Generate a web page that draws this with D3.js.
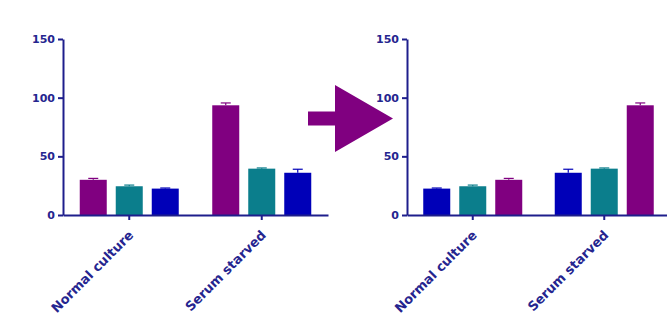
<!DOCTYPE html>
<html><head><meta charset="utf-8">
<script src="https://cdn.jsdelivr.net/npm/d3@7"></script>
<style>
html,body{margin:0;padding:0;background:#fff;}
svg{display:block;}
</style></head>
<body>
<svg id="chart" width="667" height="324"></svg>
<script>
const categories = ["Normal culture", "Serum starved"];
const seriesNames = ["Purple", "Teal", "Blue"];
const purpleValues = [30, 93.5];
const purpleErrors = [1.2, 2];
const tealValues = [24.5, 39.5];
const tealErrors = [1, 0.6];
const blueValues = [22.5, 36];
const blueErrors = [0.5, 3];
const yTicks = [0, 50, 100, 150];
const leftOrder = ["Purple", "Teal", "Blue"];
const rightOrder = ["Blue", "Teal", "Purple"];

const colors = {Purple: "#800080", Teal: "#0b7e8c", Blue: "#0000b8"};
const axisColor = "#1e1e8c";
const textColor = "#25258f";

const seriesData = {
  Purple: {values: purpleValues, errors: purpleErrors},
  Teal: {values: tealValues, errors: tealErrors},
  Blue: {values: blueValues, errors: blueErrors}
};

const svg = d3.select("#chart");

function drawPanel(x0, x1, order) {
  const y = d3.scaleLinear().domain([0, 150]).range([215, 39]);
  const xb = d3.scaleBand().domain(categories).range([x0, x1]).padding(0);
  const inner = 99;
  const xs = d3.scaleBand().domain(order).range([0, inner]).paddingInner(0.25);
  const off = (xb.bandwidth() - inner) / 2;
  const g = svg.append("g");

  categories.forEach((c, ci) => {
    order.forEach(s => {
      const v = seriesData[s].values[ci];
      const e = seriesData[s].errors[ci];
      const bx = xb(c) + off + xs(s);
      g.append("rect")
        .attr("x", bx).attr("width", xs.bandwidth())
        .attr("y", y(v)).attr("height", y(0) - y(v))
        .attr("fill", colors[s]);
      const cx = bx + xs.bandwidth() / 2;
      g.append("line").attr("x1", cx).attr("x2", cx)
        .attr("y1", y(v)).attr("y2", y(v + e))
        .attr("stroke", colors[s]).attr("stroke-width", 1.2);
      g.append("line").attr("x1", cx - 5).attr("x2", cx + 5)
        .attr("y1", y(v + e)).attr("y2", y(v + e))
        .attr("stroke", colors[s]).attr("stroke-width", 1.2);
    });
  });

  const ya = g.append("g").attr("transform", `translate(${x0},0)`)
    .call(d3.axisLeft(y).tickValues(yTicks).tickSize(5).tickSizeOuter(0).tickPadding(3));
  ya.select(".domain").attr("stroke", axisColor).attr("stroke-width", 2);
  ya.selectAll(".tick line").attr("stroke", axisColor).attr("stroke-width", 2);
  ya.selectAll(".tick text").attr("fill", textColor)
    .attr("font-family", "DejaVu Sans").attr("font-weight", "bold").attr("font-size", 11);

  const xa = g.append("g").attr("transform", `translate(0,215)`)
    .call(d3.axisBottom(xb).tickSize(5).tickSizeOuter(0));
  xa.select(".domain").attr("stroke", axisColor).attr("stroke-width", 2);
  xa.selectAll(".tick line").attr("stroke", axisColor).attr("stroke-width", 2);
  xa.selectAll(".tick text")
    .attr("fill", textColor)
    .attr("font-family", "DejaVu Sans").attr("font-weight", "bold").attr("font-size", 13)
    .attr("text-anchor", "end")
    .attr("dy", 0)
    .attr("y", 0)
    .attr("transform", "translate(5,21) rotate(-45)");
}

drawPanel(63, 328, leftOrder);
drawPanel(407, 670, rightOrder);

svg.append("path")
  .attr("d", "M308,111.5 L335,111.5 L335,85 L393,118.5 L335,152 L335,125.5 L308,125.5 Z")
  .attr("fill", "#800080");
</script>
</body></html>
